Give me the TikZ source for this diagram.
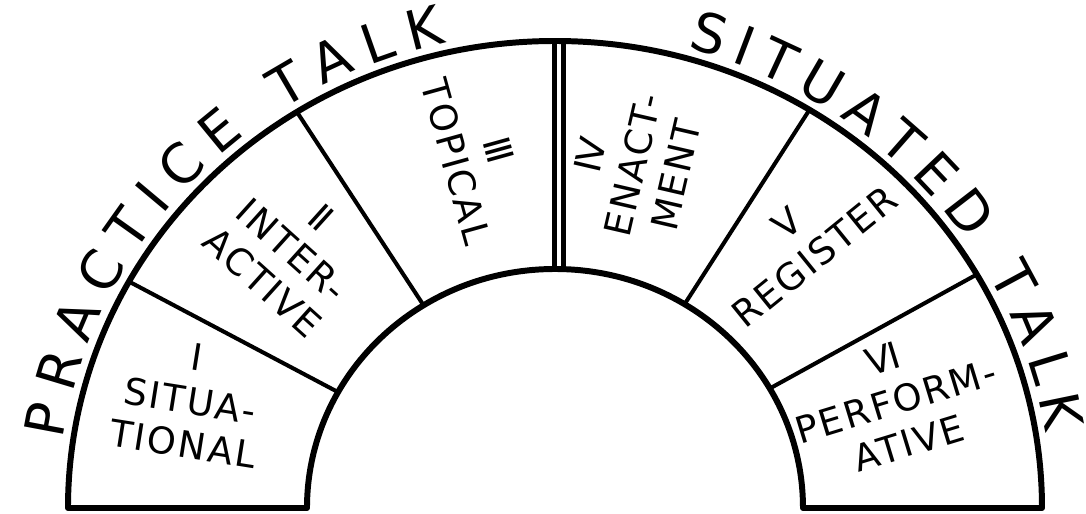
\documentclass[tikz,border=0pt]{standalone}
\usepackage{fontspec}
\setmainfont{DejaVu Sans}
\newfontfamily\sectfam[LetterSpace=6]{DejaVu Sans}
\usetikzlibrary{decorations.text}

\newcommand\ringfont{\fontsize{31}{31}\selectfont}
\newcommand\sectfont{\sectfam\fontsize{21}{25}\selectfont}

\tikzset{
  rim/.style={line width=3.4pt, line join=round},
  spoke/.style={line width=2.3pt},
  midspoke/.style={double, line width=2.6pt, double distance=2.4pt},
  sectlabel/.style={font=\sectfont, align=center, inner sep=0pt},
  ringtext/.style={decorate, decoration={text along path, text align={fit to path}, text={|\ringfont|#1}}}
}

\begin{document}
\begin{tikzpicture}[x=0.02cm, y=0.02cm]
\useasboundingbox (-555,-6) rectangle (531,508);

% Spokes between inner and outer rim
\foreach \a/\n in {30/a, 58.5/b, 122/c, 151/d} {
  \coordinate (in\n) at (\a:248 and 239);
  \coordinate (out\n) at (\a:487 and 467);
  \draw[spoke] (in\n) -- (out\n);
}
% Double spoke in the middle
\coordinate (inm) at (4,238);
\coordinate (outm) at (4,467);
\draw[midspoke] (inm) -- (outm);

% Half ring
\draw[rim] (-487,0) arc[start angle=180, end angle=0, x radius=487, y radius=467]
  -- (248,0) arc[start angle=0, end angle=180, x radius=248, y radius=239] -- cycle;

% Sector labels
\node[sectlabel, rotate=-9] (sit) at (-365,107) {Ⅰ\\SITUA-\\TIONAL};
\node[sectlabel, rotate=-42] (inter) at (-263,258) {Ⅱ\\INTER-\\ACTIVE};
\node[sectlabel, rotate=-74.5] (top) at (-78,352) {Ⅲ\\TOPICAL};
\node[sectlabel, rotate=77] (enact) at (78,343) {Ⅳ\\ENACT-\\MENT};
\node[sectlabel, rotate=39] (reg) at (246,268) {Ⅴ\\REGISTER};
\node[sectlabel, rotate=17] (perf) at (341,107) {Ⅵ\\PERFORM-\\ATIVE};

% Titles round the rim
\path[ringtext=PRACTICE TALK] (171.7:497 and 477)
  arc[start angle=171.7, end angle=102.7, x radius=497, y radius=477];
\path[ringtext=SITUATED TALK] (74.6:497 and 477)
  arc[start angle=74.6, end angle=9.1, x radius=497, y radius=477];
\end{tikzpicture}
\end{document}
